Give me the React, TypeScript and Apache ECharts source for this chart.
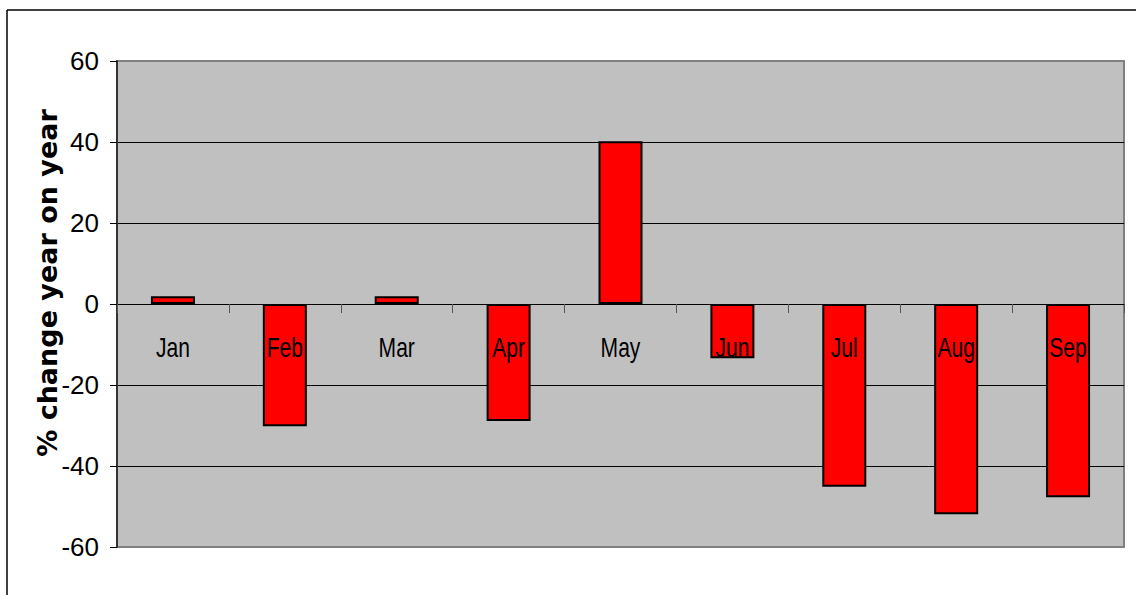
import React, { useEffect, useRef } from "react";
import * as echarts from "echarts";

const categories = ["Jan", "Feb", "Mar", "Apr", "May", "Jun", "Jul", "Aug", "Sep"];
const changeValues = [1.9, -30.2, 1.9, -28.9, 40.2, -13.4, -45.1, -51.9, -47.7];
const yTicks = { min: -60, max: 60, interval: 20 };
const yAxisTitle = "% change year on year";

const LABEL_FONT = "'Liberation Sans', Arial, sans-serif";

export default function App() {
  const ref = useRef<HTMLDivElement>(null);
  useEffect(() => {
    if (!ref.current) return;
    const chart = echarts.init(ref.current, undefined, { renderer: "svg" });
    chart.setOption({
      animation: false,
      backgroundColor: "#ffffff",
      grid: {
        left: 117,
        top: 61,
        right: 12,
        bottom: 48,
        show: true,
        backgroundColor: "#C0C0C0",
        borderColor: "#808080",
        borderWidth: 2,
        outerBoundsMode: "none",
        containLabel: false,
      },
      xAxis: {
        type: "category",
        data: categories,
        axisLine: { onZero: true, lineStyle: { color: "#000000", width: 1 } },
        axisTick: { show: true, alignWithLabel: false, length: 9, inside: false, lineStyle: { color: "#555555", width: 1 } },
        axisLabel: { show: false },
        splitLine: { show: false },
      },
      yAxis: {
        type: "value",
        min: yTicks.min,
        max: yTicks.max,
        interval: yTicks.interval,
        axisLine: { show: true, lineStyle: { color: "#333333", width: 2 } },
        axisTick: { show: true, length: 7, lineStyle: { color: "#000000", width: 1 } },
        axisLabel: {
          margin: 18,
          color: "#000000",
          fontSize: 26,
          fontFamily: LABEL_FONT,
        },
        splitLine: {
          show: true,
          lineStyle: {
            color: ["#808080", "#000000", "#000000", "#000000", "#000000", "#000000", "#808080"],
            width: 1,
          },
        },
      },
      series: [
        {
          type: "bar",
          data: changeValues,
          barWidth: 44,
          itemStyle: { color: "#FF0000", borderColor: "#000000", borderWidth: 2 },
          z: 2,
        },
        {
          type: "custom",
          data: categories.map((c) => [c, 0]),
          z: 5,
          silent: true,
          renderItem: (params: any, api: any) => {
            const p = api.coord([api.value(0), 0]);
            return {
              type: "text",
              x: p[0],
              y: p[1] + 44,
              scaleX: 0.78,
              style: {
                text: categories[params.dataIndex],
                fill: "#000000",
                font: "27px " + LABEL_FONT,
                align: "center",
                verticalAlign: "middle",
              },
            };
          },
        },
      ],
      graphic: [
        { type: "line", shape: { x1: 7, y1: 10, x2: 1140, y2: 10 }, style: { stroke: "#000000", lineWidth: 1.5 } },
        { type: "line", shape: { x1: 7, y1: 10, x2: 7, y2: 600 }, style: { stroke: "#000000", lineWidth: 1.5 } },
        {
          type: "text",
          x: 47,
          y: 283,
          rotation: Math.PI / 2,
          style: {
            text: yAxisTitle,
            fill: "#000000",
            font: "bold 27px 'DejaVu Sans', sans-serif",
            align: "center",
            verticalAlign: "middle",
          },
        },
      ],
    });
    return () => chart.dispose();
  }, []);
  return (
    <div
      ref={ref}
      style={{ position: "absolute", left: 0, top: 0, width: 1136, height: 595 }}
    />
  );
}
